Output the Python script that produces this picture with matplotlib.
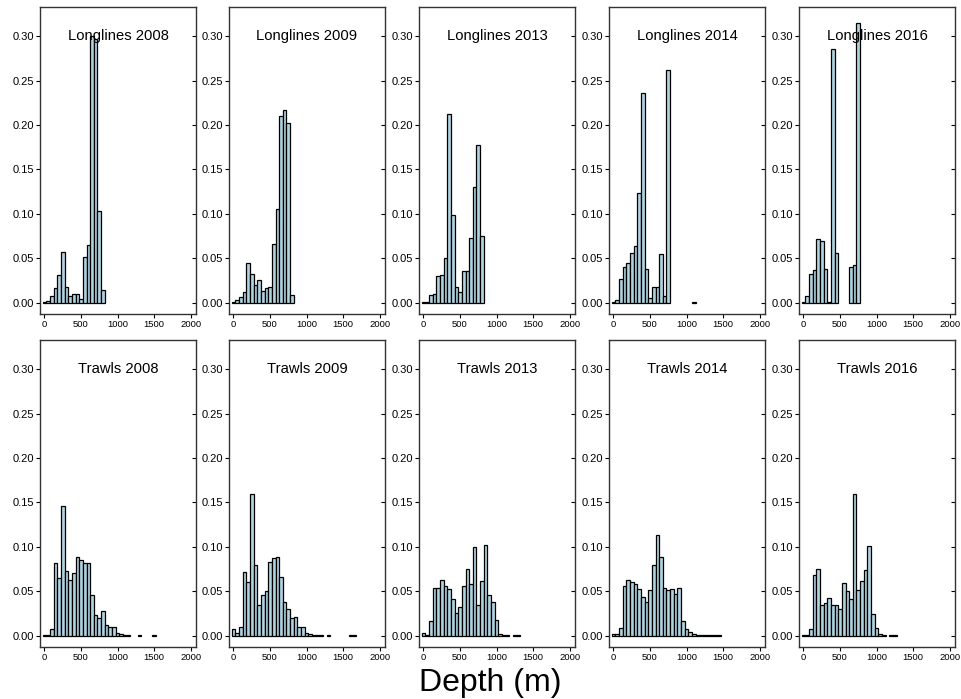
import numpy as np
import matplotlib
matplotlib.use("Agg")
import matplotlib.pyplot as plt

plt.rcParams['font.family'] = ['Liberation Sans', 'DejaVu Sans']

nan = np.nan
bin_width = 50  # m, bins centred on multiples of 50

# proportion of sets per depth bin (first value = bin centred on 0 m)
ll_2008 = [0.0005, 0.002, 0.008, 0.017, 0.031, 0.057, 0.018, 0.008, 0.010, 0.010,
           0.004, 0.051, 0.065, 0.300, 0.297, 0.103, 0.014]
ll_2009 = [0.0005, 0.003, 0.006, 0.012, 0.045, 0.032, 0.020, 0.025, 0.013, 0.016,
           0.018, 0.066, 0.105, 0.210, 0.217, 0.202, 0.009]
ll_2013 = [0.0005, 0.001, 0.009, 0.010, 0.030, 0.031, 0.050, 0.212, 0.099, 0.018,
           0.012, 0.036, 0.036, 0.073, 0.130, 0.178, 0.075]
ll_2014 = [0.0005, 0.003, 0.027, 0.040, 0.045, 0.056, 0.064, 0.123, 0.236, 0.038,
           0.005, 0.018, 0.018, 0.055, 0.008, 0.262, nan, nan, nan, nan,
           nan, nan, 0.0005]
ll_2016 = [0.0005, 0.008, 0.032, 0.037, 0.072, 0.069, 0.038, 0.001, 0.286, 0.056,
           nan, nan, nan, 0.040, 0.042, 0.315]

tr_2008 = [0.001, 0.001, 0.007, 0.082, 0.065, 0.146, 0.073, 0.063, 0.071, 0.089,
           0.085, 0.082, 0.082, 0.046, 0.023, 0.020, 0.028, 0.012, 0.010, 0.010,
           0.003, 0.002, 0.001, 0.0005, nan, nan, 0.0005, nan, nan, nan, 0.0005]
tr_2009 = [0.008, 0.003, 0.010, 0.072, 0.060, 0.159, 0.079, 0.034, 0.046, 0.050,
           0.083, 0.087, 0.089, 0.066, 0.038, 0.030, 0.020, 0.021, 0.010, 0.010,
           0.003, 0.002, 0.001, 0.001, 0.0005, nan, 0.0005, nan, nan, nan,
           nan, nan, 0.0005, 0.0005]
tr_2013 = [0.003, 0.0005, 0.017, 0.054, 0.054, 0.063, 0.056, 0.052, 0.041, 0.026,
           0.032, 0.056, 0.075, 0.058, 0.100, 0.034, 0.062, 0.102, 0.046, 0.038,
           0.018, 0.002, 0.001, 0.0005, nan, 0.0005, 0.0005]
tr_2014 = [0.002, 0.002, 0.009, 0.056, 0.063, 0.060, 0.058, 0.052, 0.043, 0.038,
           0.051, 0.079, 0.113, 0.089, 0.054, 0.051, 0.052, 0.047, 0.054, 0.017,
           0.007, 0.004, 0.002, 0.001, 0.001, 0.0005, 0.001, 0.0005, 0.0005, 0.0005]
tr_2016 = [0.001, 0.001, 0.007, 0.068, 0.075, 0.034, 0.037, 0.042, 0.035, 0.034,
           0.030, 0.059, 0.050, 0.041, 0.160, 0.051, 0.062, 0.074, 0.101, 0.024,
           0.009, 0.002, 0.001, nan, 0.0005, 0.0005]

years = [2008, 2009, 2013, 2014, 2016]
longlines = [ll_2008, ll_2009, ll_2013, ll_2014, ll_2016]
trawls = [tr_2008, tr_2009, tr_2013, tr_2014, tr_2016]

yticks = [0.00, 0.05, 0.10, 0.15, 0.20, 0.25, 0.30]
xticks = [0, 500, 1000, 1500, 2000]

fig = plt.figure(figsize=(9.62, 6.99), dpi=100)

W, H = 962.0, 699.0
lefts = [40, 229, 419, 609, 799]
tops = [7, 340]
pw, ph = 156, 307

for row, (gear, data) in enumerate([("Longlines", longlines), ("Trawls", trawls)]):
    for col in range(5):
        ax = fig.add_axes([lefts[col] / W, 1 - (tops[row] + ph) / H, pw / W, ph / H])
        vals = np.array(data[col], dtype=float)
        centers = bin_width * np.arange(len(vals))
        ok = ~np.isnan(vals)
        ax.bar(centers[ok], vals[ok], width=bin_width, color='#afd3df',
               edgecolor='black', linewidth=0.9)
        ax.set_xlim(-60, 2070)
        ax.set_ylim(-0.0128, 0.3328)
        ax.set_yticks(yticks)
        ax.set_yticklabels(["%.2f" % v for v in yticks])
        ax.set_xticks(xticks)
        ax.tick_params(axis='y', labelsize=8, length=3, pad=1.5, width=0.8)
        ax.tick_params(axis='x', labelsize=6.8, length=3, pad=1.5, width=0.8)
        for s in ax.spines.values():
            s.set_color('#333333')
            s.set_linewidth(1.0)
        sec = ax.secondary_yaxis('right')
        sec.set_yticks(yticks)
        sec.tick_params(direction='in', length=3, labelright=False, width=0.8)
        sec.spines['right'].set_visible(False)
        ax.text(0.5, 0.905, "%s %d" % (gear, years[col]), transform=ax.transAxes,
                ha='center', va='center', fontsize=10.6)

fig.text(490 / W, 1 - 683 / H, "Depth (m)", ha='center', va='center', fontsize=23)

fig.savefig("out.png", dpi=100)
